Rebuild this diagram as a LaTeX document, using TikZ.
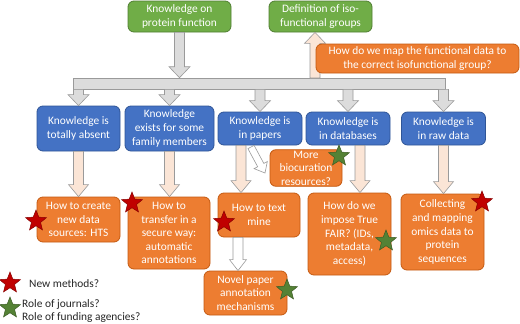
\documentclass[tikz,border=0pt]{standalone}
\usepackage{fontspec}
\setmainfont{Carlito}
\usetikzlibrary{calc, shapes.geometric}

\definecolor{boxblue}{HTML}{4472C4}
\definecolor{edgeblue}{HTML}{2F5597}
\definecolor{boxgreen}{HTML}{70AD47}
\definecolor{edgegreen}{HTML}{507E32}
\definecolor{boxorange}{HTML}{ED7D31}
\definecolor{edgeorange}{HTML}{C55A11}
\definecolor{peach}{HTML}{FBE5D6}
\definecolor{lightgray}{HTML}{DCDCDC}
\definecolor{edgegray}{HTML}{9A9A9A}
\definecolor{starred}{HTML}{C00000}
\definecolor{stargreen}{HTML}{548235}

\newcommand{\boxfont}{\fontsize{11.4pt}{13.6pt}\selectfont}
% block arrow: shaft half width \bw, head half width \hw, head length \hl
\def\bw{5}\def\hw{10.5}\def\hl{11}
\newcommand{\blockarrow}[3]{%
  \draw[#1] let \p1=(#2), \p2=(#3),
      \n1={atan2(\y2-\y1,\x2-\x1)}, \n2={veclen(\x2-\x1,\y2-\y1)} in
    [shift={(\p1)}, rotate=\n1]
    (0,-\bw) -- ({\n2-\hl},-\bw) -- ({\n2-\hl},-\hw) -- (\n2,0)
    -- ({\n2-\hl},\hw) -- ({\n2-\hl},\bw) -- (0,\bw) -- cycle;}

\begin{document}
\begin{tikzpicture}[x=1pt, y=-1pt,
    box/.style={rounded corners=6pt, line width=0.8pt, align=center, text=white, inner sep=1pt, font=\boxfont},
    greenbox/.style={box, fill=boxgreen, draw=edgegreen},
    bluebox/.style={box, fill=boxblue, draw=edgeblue},
    orangebox/.style={box, fill=boxorange, draw=edgeorange},
    grayarrow/.style={fill=lightgray, draw=edgegray, line width=0.6pt},
    peacharrow/.style={fill=peach, draw=edgegray, line width=0.6pt},
    whitearrow/.style={fill=white, draw=edgegray, line width=0.6pt},
    starmark/.style={star, star points=5, star point ratio=2.3, minimum size=22pt, inner sep=0pt, line width=0.5pt},
    redmark/.style={starmark, fill=starred, draw=starred!70!black},
    greenmark/.style={starmark, fill=stargreen, draw=stargreen!70!black}
]
\useasboundingbox[fill=white] (0,0) rectangle (520,324);

% --- Top level ---
\node[greenbox, minimum width=103pt, minimum height=31pt] (knowfunc) at (179.5,16.5) {Knowledge on\\protein function};
\node[greenbox, minimum width=103pt, minimum height=31pt] (isodef) at (320.5,16.5) {Definition of iso-\\functional groups};
\node[fill=lightgray, draw=edgegray, line width=0.6pt, minimum width=372pt, minimum height=11pt, inner sep=0pt] (bar) at (259.5,83.5) {};

\blockarrow{grayarrow}{knowfunc.south}{knowfunc.south |- bar.north}
\coordinate (upfoot) at (315,78);
\blockarrow{peacharrow}{upfoot}{upfoot |- isodef.south}

\node[orangebox, minimum width=203pt, minimum height=29pt] (mapq) at (417.5,58.5) {How do we map the functional data to\\the correct isofunctional group?};

% --- Where the knowledge is ---
\node[bluebox, minimum width=83pt, minimum height=45pt] (absent) at (78.5,128.5) {Knowledge is\\totally absent};
\node[bluebox, minimum width=89pt, minimum height=45pt] (family) at (169.5,128.5) {Knowledge\\exists for some\\family members};
\node[bluebox, minimum width=84pt, minimum height=33pt] (papers) at (260,128.5) {Knowledge is\\in papers};
\node[bluebox, minimum width=84pt, minimum height=33pt] (dbases) at (348,128.5) {Knowledge is\\in databases};
\node[bluebox, minimum width=84pt, minimum height=33pt] (rawdata) at (443.5,128.5) {Knowledge is\\in raw data};

\foreach \where in {absent, family, papers, dbases, rawdata}
  \blockarrow{grayarrow}{bar.south -| \where.north}{\where.north};

% --- Questions ---
\node[orangebox, minimum width=83pt, minimum height=45pt] (hts) at (78.5,219.5) {How to create\\new data\\sources: HTS};
\node[orangebox, minimum width=82pt, minimum height=72pt] (transfer) at (169,233) {How to\\transfer in a\\secure way:\\automatic\\annotations};
\node[orangebox, minimum width=82pt, minimum height=44pt] (textmine) at (259,215) {How to text\\mine};
\node[orangebox, minimum width=72pt, minimum height=36pt] (biocur) at (306,168) {More\\biocuration\\resources?};
\node[orangebox, minimum width=83pt, minimum height=82pt] (fair) at (349.5,234) {How do we\\impose True\\FAIR? (IDs,\\metadata,\\access)};
\node[orangebox, minimum width=83pt, minimum height=76pt] (omics) at (442.5,232) {Collecting\\and mapping\\omics data to\\protein\\sequences};
\node[orangebox, minimum width=83pt, minimum height=44pt] (novel) at (245.5,293) {Novel paper\\annotation\\mechanisms};

\def\hw{10}\def\hl{12}
\blockarrow{peacharrow}{absent.south}{hts.north}
\blockarrow{peacharrow}{family.south}{family.south |- transfer.north}
\coordinate (txtfoot) at ($(papers.south)+(-19,0)$);
\blockarrow{peacharrow}{txtfoot}{txtfoot |- textmine.north}
\coordinate (fairfoot) at ($(dbases.south)+(12,0)$);
\blockarrow{peacharrow}{fairfoot}{fairfoot |- fair.north}
\blockarrow{peacharrow}{rawdata.south}{rawdata.south |- omics.north}

\def\bw{5}\def\hw{8.5}\def\hl{11}
\coordinate (novfoot) at ($(textmine.south)+(-21,0)$);
\blockarrow{whitearrow}{novfoot}{novfoot |- novel.north}
\def\bw{3.5}\def\hw{7.5}\def\hl{9}
\coordinate (diagtail) at (251,147);
\coordinate (diagtip) at (265,173);
\blockarrow{whitearrow}{diagtail}{diagtip}

% --- Stars ---
\node[redmark] (star1) at (36,221) {};
\node[redmark] (star2) at (132,203) {};
\node[redmark] (star3) at (224,222) {};
\node[greenmark] (star4) at (339,156) {};
\node[greenmark] (star5) at (386,241) {};
\node[redmark] (star6) at (482,202) {};
\node[greenmark] (star7) at (287,290) {};

% --- Legend ---
\node[redmark] (legred) at (10,283) {};
\node[greenmark] (leggreen) at (10,308) {};
\node[font=\boxfont, text=black!85, anchor=west, inner sep=0pt] (legnew) at (29,284) {New methods?};
\node[font=\boxfont, text=black!85, anchor=west, align=left, inner sep=0pt] (legrole) at (22,311) {Role of journals?\\Role of funding agencies?};

\end{tikzpicture}
\end{document}
